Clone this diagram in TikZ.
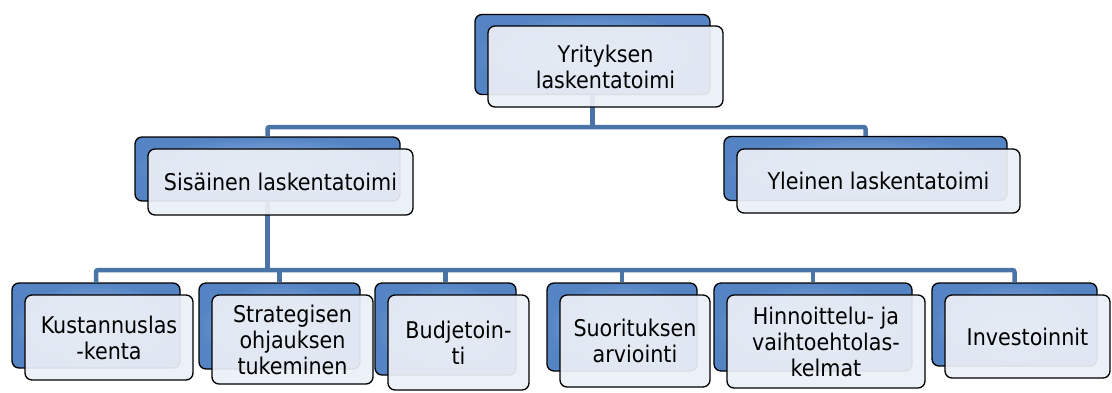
\documentclass[tikz,border=0pt]{standalone}
\usepackage{fontspec}
\setmainfont{DejaVu Sans Condensed}
\definecolor{connc}{HTML}{4A74A8}
\definecolor{backblue}{HTML}{5584C4}
\definecolor{backlight}{HTML}{9ABCE8}
\definecolor{frontfill}{HTML}{EBEFF6}
\tikzset{
  backbox/.style={draw=black, line width=1.3pt, rounded corners=7pt, inner sep=0pt,
    inner color=backlight, outer color=backblue},
  frontbox/.style={draw=black, line width=1.3pt, rounded corners=7pt, inner sep=0pt,
    fill=frontfill, fill opacity=0.93, text opacity=1, align=center, text=black,
    font=\fontsize{23}{26}\selectfont},
  conn/.style={draw=connc, line width=4.5pt}
}
\begin{document}
\begin{tikzpicture}[x=1pt,y=-1pt]
\useasboundingbox (0,0) rectangle (1112,392);
% back boxes
\node[backbox, minimum width=235pt, minimum height=80pt] (topb) at (592.5,54.5) {};
\node[backbox, minimum width=265pt, minimum height=64pt] (Lb) at (267.5,169) {};
\node[backbox, minimum width=283pt, minimum height=64pt] (Rb) at (865.5,168.5) {};
\node[backbox, minimum width=168pt, minimum height=85pt] (b1b) at (96,325.5) {};
\node[backbox, minimum width=161pt, minimum height=86pt] (b2b) at (279.5,326) {};
\node[backbox, minimum width=141pt, minimum height=92pt] (b3b) at (445.5,329) {};
\node[backbox, minimum width=150pt, minimum height=88pt] (b4b) at (622,327) {};
\node[backbox, minimum width=198pt, minimum height=88pt] (b5b) at (813,327) {};
\node[backbox, minimum width=165pt, minimum height=83pt] (b6b) at (1014.5,324.5) {};
% connectors
\coordinate (h1) at (0,127);
\coordinate (h2) at (0,270);
\draw[conn] (topb.south) -- (topb.south |- h1);
\draw[conn, rounded corners=2pt] (Lb.north) -- (Lb.north |- h1) -- (Rb.north |- h1) -- (Rb.north);
\draw[conn] (Lb.south) -- (Lb.south |- h2);
\draw[conn, rounded corners=2pt] (b1b.north) -- (b1b.north |- h2) -- (b6b.north |- h2) -- (b6b.north);
\draw[conn] (b2b.north) -- (b2b.north |- h2);
\draw[conn] (b3b.north) -- (b3b.north |- h2);
\draw[conn] (b4b.north) -- (b4b.north |- h2);
\draw[conn] (b5b.north) -- (b5b.north |- h2);
% front boxes
\node[frontbox, minimum width=235pt, minimum height=81pt] (top) at (605.5,66.5) {Yrityksen\\laskentatoimi};
\node[frontbox, minimum width=265pt, minimum height=66pt] (L) at (280.5,182) {Sisäinen laskentatoimi};
\node[frontbox, minimum width=283pt, minimum height=64pt] (R) at (878.5,181) {Yleinen laskentatoimi};
\node[frontbox, minimum width=168pt, minimum height=85pt] (b1) at (109,337.5) {Kustannuslas\\-kenta};
\node[frontbox, minimum width=161pt, minimum height=89pt] (b2) at (292.5,339.5) {Strategisen\\ohjauksen\\tukeminen};
\node[frontbox, minimum width=141pt, minimum height=95pt] (b3) at (458.5,342.5) {Budjetoin-\\ti};
\node[frontbox, minimum width=150pt, minimum height=92pt] (b4) at (635,341) {Suorituksen\\arviointi};
\node[frontbox, minimum width=198pt, minimum height=93pt] (b5) at (826,341.5) {Hinnoittelu- ja\\vaihtoehtolas-\\kelmat};
\node[frontbox, minimum width=165pt, minimum height=83pt] (b6) at (1027.5,336.5) {Investoinnit};
\end{tikzpicture}
\end{document}
